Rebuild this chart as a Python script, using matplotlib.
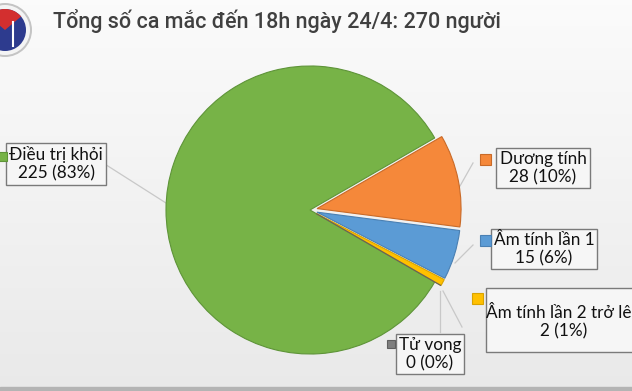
import matplotlib
matplotlib.use("Agg")
import matplotlib.pyplot as plt
import numpy as np
from matplotlib.patches import Rectangle, Circle, Wedge

# data
labels = ["Điều trị khỏi", "Dương tính", "Âm tính lần 1", "Âm tính lần 2 trở lên", "Tử vong"]
counts = [225, 28, 15, 2, 0]
percents = [83, 10, 6, 1, 0]
colors = ["#77b347", "#f5883a", "#5b9bd5", "#ffc000", "#7f7f7f"]
edges = ["#5e9438", "#c96a28", "#4a80b3", "#d9a300", "#606060"]
title = "Tổng số ca mắc đến 18h ngày 24/4: 270 người"

W, H = 632, 391
fig = plt.figure(figsize=(W / 100, H / 100), dpi=100)
ax = fig.add_axes([0, 0, 1, 1])


def py(y):
    # pixel row (top-down) -> axes y
    return H - y


# light background gradient
grad = np.linspace(0.985, 0.915, 256).reshape(-1, 1)
ax.imshow(np.dstack([grad, grad, grad]), extent=(0, W, 0, H), aspect="auto", zorder=0)
ax.add_patch(Rectangle((0, 0), W, 4, color="#b4b4b4", zorder=1))

# pie (explode is in data units here, so scale by radius)
R = 144
expl = [0, 0.05 * R, 0.05 * R, 0.05 * R, 0.05 * R]
wedges, _ = ax.pie(counts, colors=colors, startangle=-30, counterclock=False,
                   center=(310, py(210)), radius=R, explode=expl,
                   wedgeprops=dict(linewidth=0.8))
for w, ec in zip(wedges, edges):
    w.set_edgecolor(ec)
    w.set_zorder(3)

# leader lines
lc = "#c8c8c8"
leaders = [
    [(100, 161), (166, 203)],
    [(473, 163), (460, 186)],
    [(473, 245), (455, 263)],
    [(443, 291), (462, 327)],
    [(440, 291), (440, 332)],
]
for pts in leaders:
    xs = [p[0] for p in pts]
    ys = [py(p[1]) for p in pts]
    ax.plot(xs, ys, color=lc, lw=0.9, zorder=2)

# label boxes: (center x, center y, marker x, marker y, marker size)
boxes = [
    (56, 164, -2, 152, 9),
    (543, 168, 480, 154, 11),
    (544, 249, 480, 235, 11),
    (564, 322, 472, 293, 11),
    (430, 354, 387, 340, 8),
]
lab_font = ["Lato", "DejaVu Sans"]
for i, ((cx, cy, mx, my, ms), lab, n, p, c, ec) in enumerate(
        zip(boxes, labels, counts, percents, colors, edges)):
    # the "Âm tính lần 2" box is taller than its text and runs off the edge
    bb = None if i == 3 else dict(boxstyle="square,pad=0.18", facecolor="#f6f6f6",
                                  edgecolor="#7a7a7a", linewidth=1.0)
    ax.text(cx, py(cy), f"{lab}\n{n} ({p}%)", ha="center", va="center",
            fontsize=12.3, family=lab_font, color="#111111", linespacing=1.15,
            zorder=5, bbox=bb)
    ax.add_patch(Rectangle((mx, py(my + ms)), ms, ms, facecolor=c,
                           edgecolor=ec, linewidth=0.8, zorder=5))
ax.add_patch(Rectangle((486, py(352)), 170, 64, facecolor="#f6f6f6",
                       edgecolor="#7a7a7a", linewidth=1.0, zorder=4))

# title
ax.text(53, py(21), title, ha="left", va="center", fontsize=15.5,
        family=["Roboto", "DejaVu Sans"], weight="medium",
        color="#404040", zorder=5)

# logo (simplified)
lx, ly = 5, py(30)
ax.add_patch(Circle((lx, ly), 27, facecolor="#c4c4c4", edgecolor="none", zorder=4))
ax.add_patch(Circle((lx, ly), 25, facecolor="#f4f4f4", edgecolor="none", zorder=4))
ax.add_patch(Circle((lx, ly), 21, facecolor="#2d3b8e", edgecolor="none", zorder=4))
ax.add_patch(Wedge((lx, ly), 21, 40, 140, facecolor="#d32f2f", edgecolor="none", zorder=4))
ax.plot([lx + 8, lx + 8], [ly - 16, ly + 8], color="white", lw=1.5, zorder=5)

ax.set_xlim(0, W)
ax.set_ylim(0, H)
ax.set_aspect("auto")
ax.axis("off")
fig.savefig("out.png", dpi=100)
